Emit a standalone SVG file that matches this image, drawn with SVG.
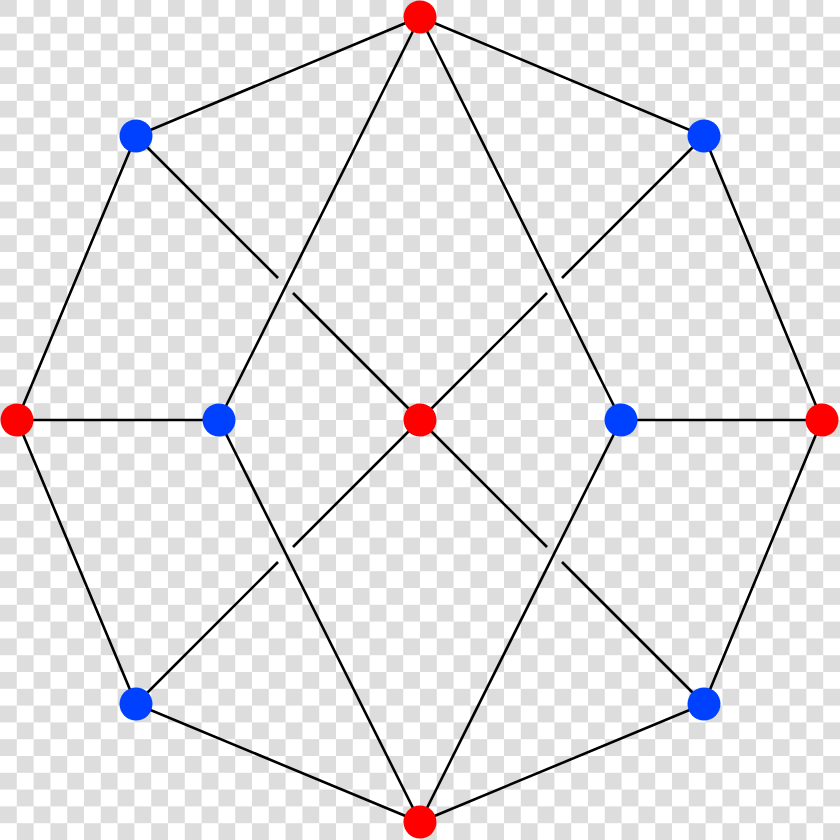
<svg xmlns="http://www.w3.org/2000/svg" width="840" height="840" viewBox="0 0 840 840">
<defs>
<pattern id="chk" width="33.6" height="33.6" patternUnits="userSpaceOnUse">
<rect width="33.6" height="33.6" fill="#ffffff"/>
<rect width="16.8" height="16.8" fill="#dddddd"/>
<rect x="16.8" y="16.8" width="16.8" height="16.8" fill="#dddddd"/>
</pattern>
<style>
.e{stroke:#000;stroke-width:2.6;fill:none;stroke-linecap:butt}
.r{fill:#ff0000}
.b{fill:#0040ff}
</style>
</defs>
<rect width="840" height="840" fill="url(#chk)"/>
<g id="connectors" class="e">
<polygon points="420,17 704,136 822,420 704,704 420,822 136,704 17,420 136,136"/>
<line x1="420" y1="17" x2="219" y2="420"/>
<line x1="420" y1="17" x2="621" y2="420"/>
<line x1="420" y1="822" x2="219" y2="420"/>
<line x1="420" y1="822" x2="621" y2="420"/>
<line x1="17" y1="420" x2="219" y2="420"/>
<line x1="621" y1="420" x2="822" y2="420"/>
<line x1="136" y1="136" x2="278" y2="278"/>
<line x1="293" y1="293" x2="420" y2="420"/>
<line x1="704" y1="136" x2="562" y2="278"/>
<line x1="547" y1="293" x2="420" y2="420"/>
<line x1="136" y1="704" x2="278" y2="562"/>
<line x1="293" y1="547" x2="420" y2="420"/>
<line x1="704" y1="704" x2="562" y2="562"/>
<line x1="547" y1="547" x2="420" y2="420"/>
</g>
<g id="n-top"><circle class="r" cx="420" cy="17" r="16.5"/></g>
<g id="n-bottom"><circle class="r" cx="420" cy="822" r="16.5"/></g>
<g id="n-left"><circle class="r" cx="17" cy="420" r="16.5"/></g>
<g id="n-right"><circle class="r" cx="822" cy="420" r="16.5"/></g>
<g id="n-center"><circle class="r" cx="420" cy="420" r="16.5"/></g>
<g id="n-tl"><circle class="b" cx="136" cy="136" r="16.5"/></g>
<g id="n-tr"><circle class="b" cx="704" cy="136" r="16.5"/></g>
<g id="n-bl"><circle class="b" cx="136" cy="704" r="16.5"/></g>
<g id="n-br"><circle class="b" cx="704" cy="704" r="16.5"/></g>
<g id="n-il"><circle class="b" cx="219" cy="420" r="16.5"/></g>
<g id="n-ir"><circle class="b" cx="621" cy="420" r="16.5"/></g>
</svg>
